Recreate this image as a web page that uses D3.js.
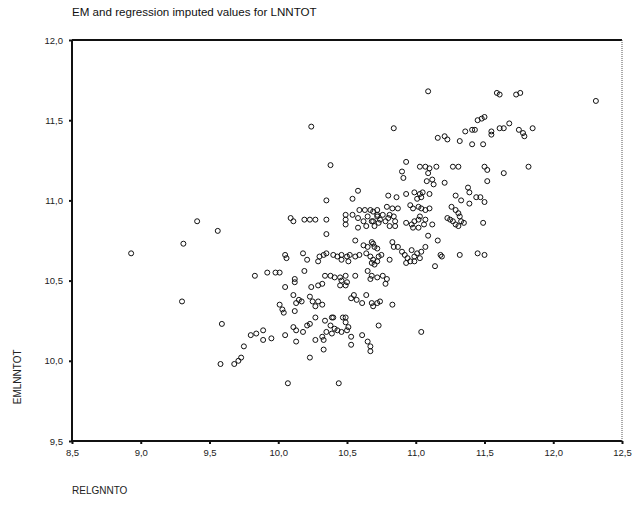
<!DOCTYPE html>
<html lang="en">
<head>
    <meta charset="UTF-8">
    <script src="https://d3js.org/d3.v7.min.js"></script>
    <style>
        body { margin: 0; background: white; }
        .title { font-family: "Liberation Sans", Arial, sans-serif; font-size: 11.6px; fill: #111; }
        .axis-label { font-family: "Liberation Sans", Arial, sans-serif; font-size: 10px; fill: #222; }
        .tick text { font-family: "Liberation Sans", Arial, sans-serif; font-size: 9.5px; fill: #222; }
        .dot { fill: none; stroke: #111; stroke-width: 1px; }
    </style>
</head>
<body>
    <div id="chart"></div>

    <script>
        const chartTitle = "EM and regression imputed values for LNNTOT";
        const xLabel = "RELGNNTO";
        const yLabel = "EMLNNTOT";

        const xTicks = [8.5, 9.0, 9.5, 10.0, 10.5, 11.0, 11.5, 12.0, 12.5];
        const yTicks = [9.5, 10.0, 10.5, 11.0, 11.5, 12.0];

        // RELGNNTO values (x)
        const relgnnto = [
            8.93, 9.31, 9.41, 9.56, 9.30, 9.59, 9.83, 9.92, 9.84, 9.89, 9.89, 9.75, 9.58, 9.68, 9.71, 9.73, 9.80, 9.95, 10.01,
            10.24, 10.38, 10.35, 10.58, 10.54, 10.09, 10.11, 10.19, 10.23, 10.27, 10.35, 10.35, 10.49, 10.49, 10.49,
            10.59, 10.63, 10.67, 10.72, 10.54, 10.58, 10.62, 10.65, 10.69, 10.72, 10.58, 10.64, 10.56, 10.62, 10.65,
            10.69, 10.72, 10.64, 10.67, 10.69, 10.05, 10.06, 10.18, 10.21, 10.30, 10.33, 10.29, 10.43, 10.46, 10.50,
            10.52, 10.56, 10.59, 10.46, 10.51, 10.35, 10.40, 9.98, 10.19, 10.34, 10.38, 10.41, 10.45, 10.49, 10.56,
            10.65, 10.68, 10.72, 10.12,
            10.46, 10.50, 10.45, 10.49, 10.05, 10.12, 10.24, 10.29, 10.32, 10.53, 10.57, 10.61, 10.55, 10.64, 10.68,
            10.72, 10.74, 10.11, 10.15, 10.17, 10.13, 10.23, 10.25, 10.29, 10.27, 10.32, 10.01, 10.03, 10.04, 10.12,
            10.27, 10.39, 10.49, 10.69, 10.11, 10.13, 10.18, 10.21, 10.23, 10.05, 10.13,
            10.34, 10.38, 10.41, 10.43, 10.46, 10.50, 10.35, 10.39, 10.49, 10.47, 10.51, 10.40,
            10.27, 10.33, 10.32, 10.33, 10.23, 10.53, 10.53, 10.61, 10.65, 10.67, 10.67, 10.07, 10.44, 10.73,
            11.09, 11.45, 10.84, 11.16, 11.21, 11.23, 11.36, 11.41, 11.32, 11.41, 10.93, 11.03, 11.07, 11.10, 11.15,
            11.27, 11.31, 10.90, 10.91, 11.09, 11.08, 11.12, 11.13, 11.21, 11.38, 11.39, 11.44, 10.80, 10.86, 10.93,
            10.99, 11.03, 11.05, 11.10, 11.01, 11.04, 11.29, 11.33, 11.39, 10.96, 10.98, 11.02, 11.04, 11.07, 11.10,
            10.79, 10.83, 10.87, 11.26, 11.29, 11.31, 11.32, 11.33, 11.23, 11.25, 11.27, 11.29, 11.31, 11.35,
            10.69, 10.72, 10.68, 10.73, 10.70, 10.74, 10.76, 10.78, 10.80, 10.81, 10.84, 10.85, 10.81, 10.85,
            10.93, 10.97, 10.99, 11.02, 11.03, 11.06, 11.07, 10.98, 11.02, 11.12, 11.09, 11.16, 10.83, 10.84,
            10.68, 10.70, 10.73, 10.72, 10.75, 10.68, 10.70,
            10.87, 10.90, 10.92, 10.94, 10.97, 10.99, 11.01, 11.03, 10.99, 11.04, 11.07, 10.96, 10.93,
            10.81, 11.18, 11.19, 11.14, 11.32, 11.45, 11.50, 10.76, 10.79, 10.78, 10.67, 10.83, 11.04,
            11.59, 11.61, 11.73, 11.76, 12.31, 11.48, 11.50, 11.43, 11.55, 11.55, 11.61, 11.64, 11.68, 11.75,
            11.78, 11.79, 11.85, 11.49, 11.50, 11.52, 11.64, 11.82, 11.52, 11.47, 11.50, 11.49
        ];

        // EMLNNTOT values (y), same order
        const emlnntot = [
            10.67, 10.73, 10.87, 10.81, 10.37, 10.23, 10.53, 10.55, 10.17, 10.19, 10.13, 10.09, 9.98, 9.98, 10.00, 10.02, 10.16, 10.14, 10.55,
            11.46, 11.22, 11.00, 11.06, 11.01, 10.89, 10.87, 10.88, 10.88, 10.88, 10.88, 10.79, 10.91, 10.88, 10.85,
            10.94, 10.94, 10.94, 10.94, 10.91, 10.89, 10.87, 10.90, 10.87, 10.91, 10.83, 10.84, 10.75, 10.72, 10.71,
            10.73, 10.70, 10.67, 10.65, 10.63, 10.66, 10.64, 10.67, 10.63, 10.65, 10.66, 10.62, 10.65, 10.66, 10.65,
            10.66, 10.65, 10.66, 10.63, 10.62, 10.67, 10.66, 10.55, 10.56, 10.53, 10.53, 10.52, 10.52, 10.53, 10.53,
            10.56, 10.53, 10.52, 10.51,
            10.50, 10.49, 10.47, 10.47, 10.46, 10.49, 10.46, 10.47, 10.48, 10.39, 10.38, 10.36, 10.41, 10.41, 10.36,
            10.36, 10.37, 10.41, 10.38, 10.37, 10.36, 10.40, 10.37, 10.37, 10.34, 10.35, 10.35, 10.32, 10.30, 10.31,
            10.27, 10.27, 10.27, 10.34, 10.21, 10.19, 10.18, 10.22, 10.23, 10.16, 10.12,
            10.25, 10.22, 10.20, 10.19, 10.18, 10.19, 10.18, 10.17, 10.24, 10.27, 10.21, 10.27,
            10.13, 10.13, 10.15, 10.07, 10.02, 10.15, 10.10, 10.16, 10.12, 10.09, 10.06, 9.86, 9.86, 10.22,
            11.68, 11.50, 11.45, 11.39, 11.40, 11.38, 11.43, 11.44, 11.37, 11.35, 11.24, 11.21, 11.21, 11.20, 11.21,
            11.21, 11.21, 11.18, 11.14, 11.17, 11.12, 11.13, 11.10, 11.11, 11.08, 11.05, 11.02, 11.03, 11.02, 11.04,
            11.05, 11.04, 11.05, 11.04, 11.01, 11.02, 11.03, 11.00, 10.98, 10.97, 10.95, 10.96, 10.95, 10.94, 10.95,
            10.96, 10.95, 10.95, 10.96, 10.94, 10.92, 10.90, 10.87, 10.89, 10.88, 10.87, 10.85, 10.84, 10.86,
            10.93, 10.90, 10.87, 10.86, 10.84, 10.88, 10.91, 10.87, 10.89, 10.91, 10.90, 10.87, 10.84, 10.84,
            10.86, 10.85, 10.87, 10.88, 10.90, 10.85, 10.88, 10.83, 10.83, 10.85, 10.78, 10.75, 10.74, 10.71,
            10.74, 10.71, 10.65, 10.62, 10.66, 10.61, 10.60,
            10.71, 10.68, 10.66, 10.64, 10.69, 10.65, 10.67, 10.64, 10.62, 10.68, 10.71, 10.62, 10.61,
            10.63, 10.66, 10.65, 10.59, 10.66, 10.67, 10.66, 10.53, 10.51, 10.48, 10.51, 10.35, 10.18,
            11.67, 11.66, 11.66, 11.67, 11.62, 11.51, 11.52, 11.44, 11.43, 11.41, 11.45, 11.45, 11.48, 11.44,
            11.42, 11.40, 11.45, 11.35, 11.21, 11.19, 11.17, 11.21, 11.12, 11.02, 10.99, 10.86
        ];

        const width = 632;
        const height = 508;
        const margin = { top: 40, right: 10, bottom: 67, left: 72 };
        const plotW = width - margin.left - margin.right;
        const plotH = height - margin.top - margin.bottom;

        const commaLocale = d3.formatLocale({ decimal: ",", thousands: ".", grouping: [3], currency: ["", ""] });
        const fmt = commaLocale.format(".1f");

        const points = relgnnto.map((x, i) => ({ x: x, y: emlnntot[i] }));

        const svg = d3.select("#chart")
            .append("svg")
            .attr("width", width)
            .attr("height", height);

        const x = d3.scaleLinear().domain([8.5, 12.5]).range([0, plotW]);
        const y = d3.scaleLinear().domain([9.5, 12.0]).range([plotH, 0]);

        svg.append("text")
            .attr("class", "title")
            .attr("x", margin.left)
            .attr("y", 16)
            .text(chartTitle);

        const g = svg.append("g")
            .attr("transform", `translate(${margin.left},${margin.top})`);

        // points
        g.selectAll("circle.dot")
            .data(points)
            .enter().append("circle")
            .attr("class", "dot")
            .attr("cx", d => x(d.x))
            .attr("cy", d => y(d.y))
            .attr("r", 2.5);

        // axes
        const xAxis = g.append("g")
            .attr("transform", `translate(0,${plotH})`)
            .call(d3.axisBottom(x).tickValues(xTicks).tickFormat(fmt).tickSize(3).tickPadding(5));

        const yAxis = g.append("g")
            .call(d3.axisLeft(y).tickValues(yTicks).tickFormat(fmt).tickSize(3).tickPadding(6));

        [xAxis, yAxis].forEach(ax => {
            ax.select(".domain").remove();
            ax.selectAll(".tick line").attr("stroke", "#111").attr("stroke-width", 2);
        });

        // frame: heavy top, left, bottom; light dotted right edge
        g.append("line")
            .attr("x1", 0).attr("x2", plotW).attr("y1", 0).attr("y2", 0)
            .attr("stroke", "#111").attr("stroke-width", 2);
        g.append("line")
            .attr("x1", 0).attr("x2", plotW).attr("y1", plotH).attr("y2", plotH)
            .attr("stroke", "#111").attr("stroke-width", 2);
        g.append("line")
            .attr("x1", 0).attr("x2", 0).attr("y1", 0).attr("y2", plotH)
            .attr("stroke", "#111").attr("stroke-width", 2);
        g.append("line")
            .attr("x1", plotW).attr("x2", plotW).attr("y1", 0).attr("y2", plotH)
            .attr("stroke", "#555").attr("stroke-width", 1).attr("stroke-dasharray", "1,1");

        svg.append("text")
            .attr("class", "axis-label")
            .attr("x", margin.left)
            .attr("y", 494)
            .text(xLabel);

        svg.append("text")
            .attr("class", "axis-label")
            .attr("transform", `translate(21,${margin.top + y(9.9)}) rotate(-90)`)
            .attr("text-anchor", "middle")
            .text(yLabel);
    </script>
</body>
</html>
